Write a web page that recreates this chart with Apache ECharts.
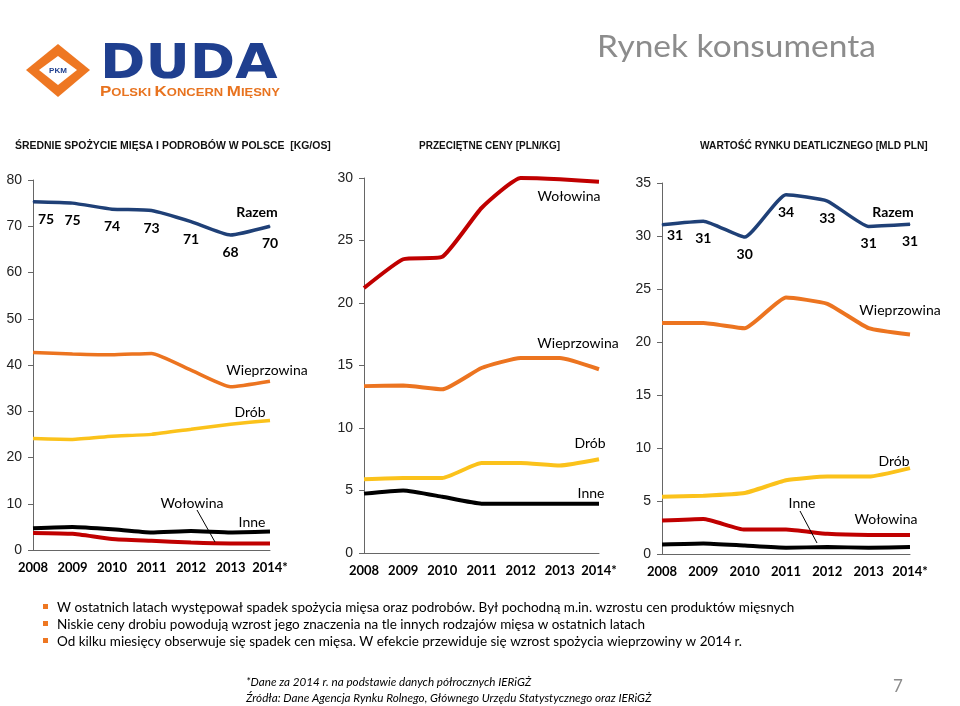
<!DOCTYPE html>
<html><head><meta charset="utf-8">
<script src="https://cdn.jsdelivr.net/npm/echarts@6/dist/echarts.min.js"></script>
<style>html,body{margin:0;padding:0;background:#fff}#c{width:960px;height:706px}</style>
</head><body><div id="c"></div>
<script>
const years = ['2008','2009','2010','2011','2012','2013','2014*'];
// Chart 1: consumption [kg/os]
const c1_razem = [75.3, 75.0, 73.7, 73.4, 71.0, 68.1, 70.0];
const c1_razemLabels = ['75','75','74','73','71','68','70'];
const c1_wieprz = [42.7, 42.4, 42.2, 42.5, 38.9, 35.3, 36.5];
const c1_drob = [24.1, 23.9, 24.6, 25.0, 26.1, 27.2, 28.0];
const c1_inne = [4.7, 5.0, 4.5, 3.8, 4.1, 3.8, 4.0];
const c1_wol = [3.7, 3.5, 2.4, 2.0, 1.6, 1.4, 1.4];
// Chart 2: prices [PLN/kg]
const c2_wol = [21.2, 23.5, 23.7, 27.6, 30.0, 29.9, 29.7];
const c2_wieprz = [13.35, 13.4, 13.1, 14.8, 15.6, 15.6, 14.7];
const c2_drob = [5.9, 6.0, 6.0, 7.2, 7.2, 7.0, 7.5];
const c2_inne = [4.75, 5.0, 4.5, 3.95, 3.95, 3.95, 3.95];
// Chart 3: market value [mld PLN]
const c3_razem = [31.07, 31.4, 29.9, 33.9, 33.3, 30.9, 31.1];
const c3_razemLabels = ['31','31','30','34','33','31','31'];
const c3_wieprz = [21.8, 21.8, 21.3, 24.2, 23.6, 21.3, 20.7];
const c3_drob = [5.4, 5.5, 5.75, 6.95, 7.3, 7.3, 8.1];
const c3_wol = [3.15, 3.3, 2.3, 2.3, 1.9, 1.8, 1.8];
const c3_inne = [0.9, 1.0, 0.8, 0.6, 0.65, 0.6, 0.65];

const headers = ['ŚREDNIE SPOŻYCIE MIĘSA I PODROBÓW W POLSCE  [KG/OS]', 'PRZECIĘTNE CENY [PLN/KG]', 'WARTOŚĆ RYNKU DEATLICZNEGO [MLD PLN]'];
const bullets = [
  'W ostatnich latach występował spadek spożycia mięsa oraz podrobów. Był pochodną m.in. wzrostu cen produktów mięsnych',
  'Niskie ceny drobiu powodują wzrost jego znaczenia na tle innych rodzajów mięsa w ostatnich latach',
  'Od kilku miesięcy obserwuje się spadek cen mięsa. W efekcie przewiduje się wzrost spożycia wieprzowiny w 2014 r.'
];

const NAVY = '#1F4077', ORANGE = '#EC7420', YELLOW = '#FBC21B', RED = '#C00000', BLACK = '#000000';
const LAT = 'Lato, "Open Sans", sans-serif';

function line(data, color, gi, width, z) {
  return { type: 'line', data: data, xAxisIndex: gi, yAxisIndex: gi, symbol: 'none', smooth: 0.15,
    lineStyle: { color: color, width: width }, clip: false, z: z, animation: false, silent: true };
}
function labeled(data, labels, color, gi, width, z, firstOffset) {
  const s = line(data.map((v, i) => i === 0 ? { value: v, label: { offset: firstOffset } } : v), color, gi, width, z);
  s.symbol = 'circle'; s.symbolSize = 1; s.itemStyle = { color: color };
  s.label = { show: true, position: 'bottom', distance: 10, formatter: p => labels[p.dataIndex],
    fontFamily: LAT, fontWeight: 'bold', fontSize: 14, color: '#000' };
  return s;
}
function xAx(gi) {
  return { gridIndex: gi, type: 'category', data: years, boundaryGap: false,
    axisLine: { show: true, lineStyle: { color: '#666', width: 1 } }, axisTick: { show: false },
    axisLabel: { interval: 0, fontFamily: LAT, fontWeight: 'bold', fontSize: 13, color: '#000', margin: 11 },
    splitLine: { show: false } };
}
function yAx(gi, max, interval) {
  return { gridIndex: gi, type: 'value', min: 0, max: max, interval: interval,
    axisLine: { show: true, lineStyle: { color: '#666', width: 1 } },
    axisTick: { show: true, length: 5, lineStyle: { color: '#666' } },
    axisLabel: { fontFamily: '"Liberation Sans", Arial, sans-serif', fontSize: 14, color: '#222', margin: 11 },
    splitLine: { show: false } };
}
function T(x, y, text, o) {
  o = o || {};
  return { type: 'text', x: x, y: y, scaleX: o.sx || 1, silent: true, z: 100,
    style: { text: text, fill: o.color || '#000', font: o.font || ('14px ' + LAT),
      textAlign: o.align || 'center', textVerticalAlign: 'middle', rich: o.rich } };
}
function L(x1, y1, x2, y2) {
  return { type: 'line', shape: { x1: x1, y1: y1, x2: x2, y2: y2 }, style: { stroke: '#000', lineWidth: 1 }, z: 100, silent: true };
}

const HF = 'bold 10px "Liberation Sans", sans-serif';
const graphics = [
  // logo
  { type: 'polygon', shape: { points: [[26,70],[58,44],[90,70],[58,97]] }, style: { fill: '#EE7722' }, z: 100 },
  { type: 'polygon', shape: { points: [[39,70],[58,56],[77,70],[58,85]] }, style: { fill: '#fff' }, z: 101 },
  Object.assign(T(58, 71, 'PKM', { font: 'bold 8px "Liberation Sans", sans-serif', color: '#1F3F8F' }), { z: 102 }),
  T(100, 66, 'DUDA', { font: 'bold 48px "DejaVu Sans", sans-serif', color: '#1F3F8F', align: 'left', sx: 1.14 }),
  { type: 'text', x: 100, y: 99, scaleX: 1.13, z: 100, silent: true,
    style: { text: '{b|P}{s|OLSKI }{b|K}{s|ONCERN }{b|M}{s|IĘSNY}', textAlign: 'left', textVerticalAlign: 'bottom',
      rich: { b: { font: 'bold 15px "Liberation Sans", sans-serif', fill: '#E8731F', verticalAlign: 'bottom' },
              s: { font: 'bold 11.5px "Liberation Sans", sans-serif', fill: '#E8731F', verticalAlign: 'bottom' } } } },
  // title
  T(597, 47, 'Rynek konsumenta', { font: '31px ' + LAT, color: '#8C8C8C', align: 'left', sx: 1.08 }),
  // headers
  T(15, 146, headers[0], { font: HF, align: 'left', color: '#111', sx: 1.045 }),
  T(419, 146, headers[1], { font: HF, align: 'left', color: '#111' }),
  T(700, 146, headers[2], { font: HF, align: 'left', color: '#111', sx: 1.018 }),
  // chart 1 series labels
  T(257, 212, 'Razem', { font: 'bold 14px ' + LAT }),
  T(267, 370, 'Wieprzowina'),
  T(250, 412, 'Drób'),
  T(192, 503, 'Wołowina'),
  T(252, 522, 'Inne'),
  L(197, 510, 215, 542),
  // chart 2 series labels
  T(569, 196, 'Wołowina'),
  T(578, 343, 'Wieprzowina'),
  T(590, 443, 'Drób'),
  T(591, 493, 'Inne'),
  // chart 3 series labels
  T(893, 212, 'Razem', { font: 'bold 14px ' + LAT }),
  T(900, 310, 'Wieprzowina'),
  T(894, 461, 'Drób'),
  T(802, 503, 'Inne'),
  T(886, 519, 'Wołowina'),
  L(800, 511, 817, 543),
  // footer
  T(246, 682, '*Dane za 2014 r. na podstawie danych półrocznych IERiGŻ', { font: 'italic 11.4px ' + LAT, align: 'left', sx: 1.025 }),
  T(246, 698, 'Źródła: Dane Agencja Rynku Rolnego, Głównego Urzędu Statystycznego oraz IERiGŻ', { font: 'italic 11.4px ' + LAT, align: 'left', sx: 1.025 }),
  T(898, 687, '7', { font: '17px ' + LAT, color: '#8C8C8C' })
];
bullets.forEach((b, i) => {
  const y = 607 + i * 17;
  graphics.push({ type: 'rect', shape: { x: 43, y: y - 3, width: 5, height: 5 }, style: { fill: '#EE7722' }, z: 100, silent: true });
  graphics.push(T(57, y + 1, b, { font: '13.5px ' + LAT, align: 'left' }));
});

const chart = echarts.init(document.getElementById('c'), null, { renderer: 'canvas' });
chart.setOption({
  backgroundColor: '#fff',
  animation: false,
  grid: [
    { left: 33, top: 180, width: 237, height: 370, outerBoundsMode: 'none' },
    { left: 364, top: 178, width: 235, height: 375, outerBoundsMode: 'none' },
    { left: 662, top: 183, width: 248, height: 371, outerBoundsMode: 'none' }
  ],
  xAxis: [xAx(0), xAx(1), xAx(2)],
  yAxis: [yAx(0, 80, 10), yAx(1, 30, 5), yAx(2, 35, 5)],
  series: [
    labeled(c1_razem, c1_razemLabels, NAVY, 0, 3.5, 5, [13, 0]),
    line(c1_wieprz, ORANGE, 0, 3.5, 4),
    line(c1_drob, YELLOW, 0, 3.5, 3),
    line(c1_wol, RED, 0, 4, 2),
    line(c1_inne, BLACK, 0, 4, 3),
    line(c2_wol, RED, 1, 4, 2),
    line(c2_wieprz, ORANGE, 1, 4, 3),
    line(c2_drob, YELLOW, 1, 4, 3),
    line(c2_inne, BLACK, 1, 4, 3),
    labeled(c3_razem, c3_razemLabels, NAVY, 2, 3.5, 5, [13, -7]),
    line(c3_wieprz, ORANGE, 2, 4, 4),
    line(c3_drob, YELLOW, 2, 4, 3),
    line(c3_wol, RED, 2, 4, 2),
    line(c3_inne, BLACK, 2, 4, 3)
  ],
  graphic: graphics
});
</script></body></html>
